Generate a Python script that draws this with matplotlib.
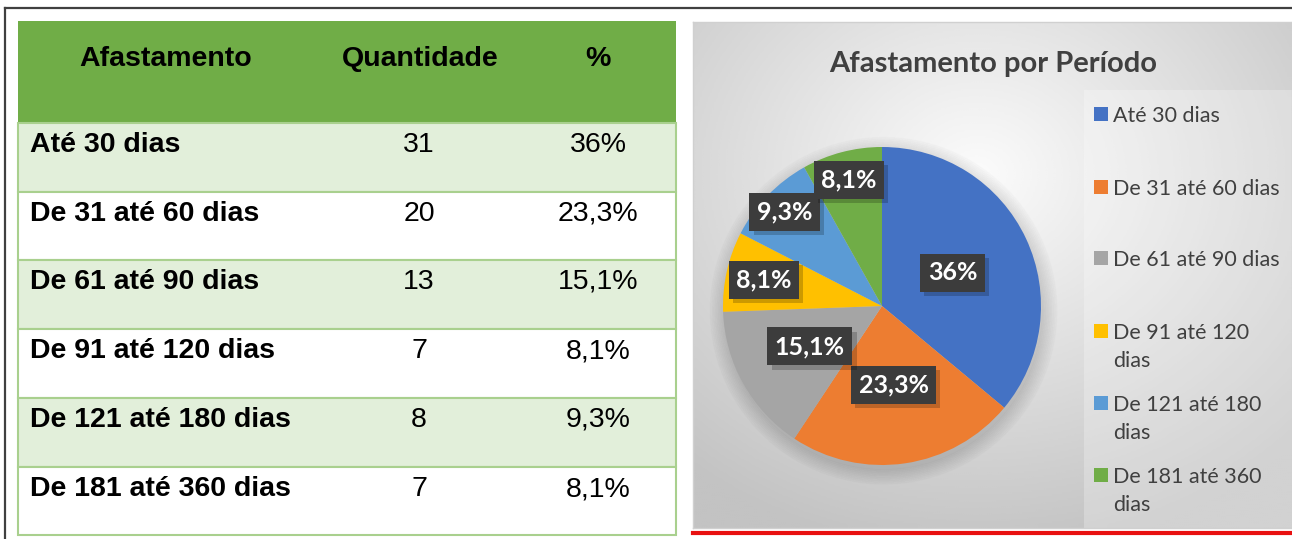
import matplotlib.pyplot as plt
from matplotlib.patches import Rectangle
import matplotlib.patheffects as pe
import numpy as np

# table data
header = ["Afastamento", "Quantidade", "%"]
periodos = ["Até 30 dias", "De 31 até 60 dias", "De 61 até 90 dias",
            "De 91 até 120 dias", "De 121 até 180 dias", "De 181 até 360 dias"]
quantidades = [31, 20, 13, 7, 8, 7]
percentuais = ["36%", "23,3%", "15,1%", "8,1%", "9,3%", "8,1%"]

# pie data
legend_labels = ["Até 30 dias", "De 31 até 60 dias", "De 61 até 90 dias",
                 "De 91 até 120\ndias", "De 121 até 180\ndias", "De 181 até 360\ndias"]
cores = ["#4472C4", "#ED7D31", "#A5A5A5", "#FFC000", "#5B9BD5", "#70AD47"]
label_dist = [0.49, 0.50, 0.52, 0.76, 0.85, 0.82]

W, H = 1292, 539
fig = plt.figure(figsize=(W / 100, H / 100), dpi=100)
fig.patch.set_facecolor("white")

# base axes in pixel coordinates
base = fig.add_axes([0, 0, 1, 1])
base.set_xlim(0, W)
base.set_ylim(H, 0)
base.axis("off")

# outer frame
base.plot([5, W], [8, 8], color="#404040", lw=1.6)
base.plot([5, 5], [8, H], color="#404040", lw=1.6)

# ---- table ----
tx0, tx1 = 18, 676
row_edges = [21, 123, 192, 260, 329, 398, 467, 535]
base.add_patch(Rectangle((tx0, row_edges[0]), tx1 - tx0, row_edges[1] - row_edges[0],
                         facecolor="#70AD47", edgecolor="none"))
col_x = [166, 420, 598]
for j, h in enumerate(header):
    base.text(col_x[j], 59, h, ha="center", va="center", fontsize=20.5,
              fontweight="bold", family="Liberation Sans", color="black")

for i in range(len(periodos)):
    y0, y1 = row_edges[i + 1], row_edges[i + 2]
    fc = "#E2EFDA" if i % 2 == 0 else "white"
    base.add_patch(Rectangle((tx0, y0), tx1 - tx0, y1 - y0, facecolor=fc,
                             edgecolor="#A9D08E", lw=1.5))
    ty = y0 + 22
    base.text(30, ty, periodos[i], ha="left", va="center", fontsize=20.5,
              fontweight="bold", family="Liberation Sans")
    base.text(419, ty, str(quantidades[i]), ha="center", va="center", fontsize=20.5,
              family="Liberation Sans")
    base.text(598, ty, percentuais[i], ha="center", va="center", fontsize=20.5,
              family="Liberation Sans")

# ---- chart area background ----
cx0, cx1, cy0, cy1 = 693, W, 22, 528
bg = fig.add_axes([cx0 / W, 1 - cy1 / H, (cx1 - cx0) / W, (cy1 - cy0) / H])
gx, gy = np.meshgrid(np.linspace(-1, 1, 300), np.linspace(-1, 1, 260))
d = np.sqrt((gx + 0.05) ** 2 + (gy + 0.4) ** 2)
g = 0.985 - 0.22 * np.clip(d / 1.5, 0, 1)
bg.imshow(g, cmap="gray", vmin=0, vmax=1, aspect="auto", extent=[0, 1, 0, 1],
          interpolation="bicubic")
bg.add_patch(Rectangle((0.652, 0.0), 0.35, 0.865, facecolor="#ffffff", alpha=0.25,
                       edgecolor="none", transform=bg.transAxes))
bg.set_xticks([])
bg.set_yticks([])
for s in bg.spines.values():
    s.set_color("#d0d0d0")
    s.set_linewidth(1)

base.set_zorder(2)
base.patch.set_alpha(0)
base.plot([cx0, W], [533, 533], color="#E81010", lw=3)

base.text(993, 64, "Afastamento por Período", ha="center", va="center",
          fontsize=21, fontweight="bold", family="Lato", color="#404040")

# ---- pie ----
pcx, pcy, r = 882, 306, 159
ext = 1.15
pie_ax = fig.add_axes([(pcx - r * ext) / W, 1 - (pcy + r * ext) / H,
                       2 * r * ext / W, 2 * r * ext / H])
pie_ax.set_zorder(3)
pie_ax.patch.set_alpha(0)
# soft shadow
for k in range(10):
    sh = plt.Circle((0.01, -0.03), 1.0 + 0.01 * k, color="black", alpha=0.012,
                    zorder=0)
    pie_ax.add_patch(sh)
wedges, _ = pie_ax.pie(quantidades, colors=cores, startangle=90, counterclock=False,
                       radius=1.0, wedgeprops=dict(linewidth=0))
pie_ax.set_xlim(-ext, ext)
pie_ax.set_ylim(-ext, ext)
pie_ax.set_aspect("equal")
pie_ax.axis("off")

for w, txt, rd in zip(wedges, percentuais, label_dist):
    ang = np.deg2rad((w.theta1 + w.theta2) / 2)
    x, y = rd * np.cos(ang), rd * np.sin(ang)
    t = pie_ax.text(x, y, txt, ha="center", va="center", fontsize=18, fontweight="bold",
                    family="Lato", color="white", zorder=10,
                    bbox=dict(boxstyle="square,pad=0.3", facecolor="#3c3c3c",
                              edgecolor="none"))
    t.get_bbox_patch().set_path_effects([
        pe.withSimplePatchShadow(offset=(3, -3), shadow_rgbFace="black", alpha=0.2)])

# legend
leg_y = [114, 187, 258, 331, 403, 475]
for lab, c, ly in zip(legend_labels, cores, leg_y):
    base.add_patch(Rectangle((1094, ly - 7), 14, 14, facecolor=c, edgecolor="none"))
    base.text(1113, ly - 8, lab, ha="left", va="top", fontsize=15.5, family="Lato",
              color="#404040", linespacing=1.5)

fig.savefig("out.png", dpi=100)
